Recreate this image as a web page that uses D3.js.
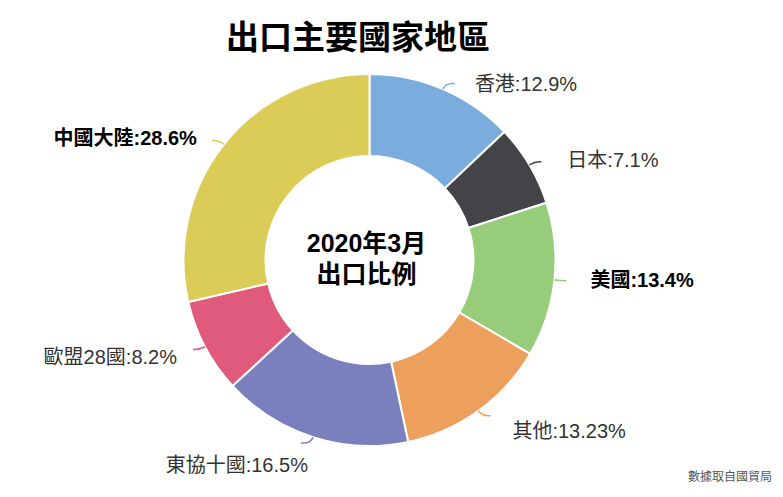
<!DOCTYPE html>
<html>
<head>
<meta charset="utf-8">
<script src="https://cdn.jsdelivr.net/npm/d3@7"></script>
<style>
  body { margin: 0; background: #fff; }
  svg text { font-family: "Liberation Sans", "Noto Sans CJK TC", sans-serif; }
</style>
</head>
<body>
<div id="chart"></div>
<script>
// Export share by region, March 2020
const regions = ['香港', '日本', '美國', '其他', '東協十國', '歐盟28國', '中國大陸'];
const shares = [12.9, 7.1, 13.4, 13.23, 16.5, 8.2, 28.6];
const shareText = ['12.9%', '7.1%', '13.4%', '13.23%', '16.5%', '8.2%', '28.6%'];
const boldLabels = ['美國', '中國大陸'];

const colors = ['#7aaddd', '#434348', '#97cc7b', '#eda05c', '#7a80be', '#e05b7b', '#dbcc57'];

// label offsets from the slice's outer edge point (layout only)
const labelShift = [[32, -5], [38, -5], [36, 0], [34, 20], [-5, 28], [-28, 10], [-27, -6]];

const width = 783, height = 497;
const cx = 369.5, cy = 260, outerR = 186, innerR = 104;

const svg = d3.select('#chart').append('svg')
  .attr('width', width)
  .attr('height', height);

// title
svg.append('text')
  .attr('x', 358).attr('y', 37)
  .attr('text-anchor', 'middle')
  .attr('dominant-baseline', 'central')
  .style('font-size', '33px').style('font-weight', 'bold')
  .text('出口主要國家地區');

const data = regions.map((r, i) => ({ name: r, value: shares[i], label: shareText[i], i }));

const pie = d3.pie().value(d => d.value).sort(null);
const arcs = pie(data);
const arc = d3.arc().innerRadius(innerR).outerRadius(outerR);

const g = svg.append('g').attr('transform', `translate(${cx},${cy})`);

g.selectAll('path.slice')
  .data(arcs)
  .enter().append('path')
    .attr('class', 'slice')
    .attr('d', arc)
    .attr('fill', d => colors[d.data.i])
    .attr('stroke', '#fff')
    .attr('stroke-width', 2);

// connectors and labels
arcs.forEach(d => {
  const a = (d.startAngle + d.endAngle) / 2;
  const sx = Math.sin(a), sy = -Math.cos(a);
  const x0 = sx * outerR, y0 = sy * outerR;
  const side = sx >= 0 ? 1 : -1;
  const c1x = x0 + sx * 7, c1y = y0 + sy * 7;
  const x2 = x0 + side * 12, y2 = y0 + sy * 6;
  g.append('path')
    .attr('d', `M${x0},${y0} Q${c1x},${c1y} ${x2},${y2}`)
    .attr('fill', 'none')
    .attr('stroke', colors[d.data.i])
    .attr('stroke-width', 1.5);

  const bold = boldLabels.includes(d.data.name);
  const sh = labelShift[d.data.i];
  g.append('text')
    .attr('x', x0 + sh[0])
    .attr('y', y0 + sh[1])
    .attr('text-anchor', side > 0 ? 'start' : 'end')
    .attr('dominant-baseline', 'central')
    .attr('fill', bold ? '#000' : '#333')
    .style('font-size', '20px')
    .style('font-weight', bold ? 'bold' : 'normal')
    .text(d.data.name + ':' + d.data.label);
});

// center text
g.append('text')
  .attr('x', -3).attr('y', -17)
  .attr('text-anchor', 'middle').attr('dominant-baseline', 'central')
  .style('font-size', '25px').style('font-weight', 'bold')
  .text('2020年3月');
g.append('text')
  .attr('x', -3).attr('y', 14)
  .attr('text-anchor', 'middle').attr('dominant-baseline', 'central')
  .style('font-size', '25px').style('font-weight', 'bold')
  .text('出口比例');

// source
svg.append('text')
  .attr('x', 772).attr('y', 477)
  .attr('text-anchor', 'end').attr('dominant-baseline', 'central')
  .attr('fill', '#555')
  .style('font-size', '12px')
  .text('數據取自國貿局');
</script>
</body>
</html>
